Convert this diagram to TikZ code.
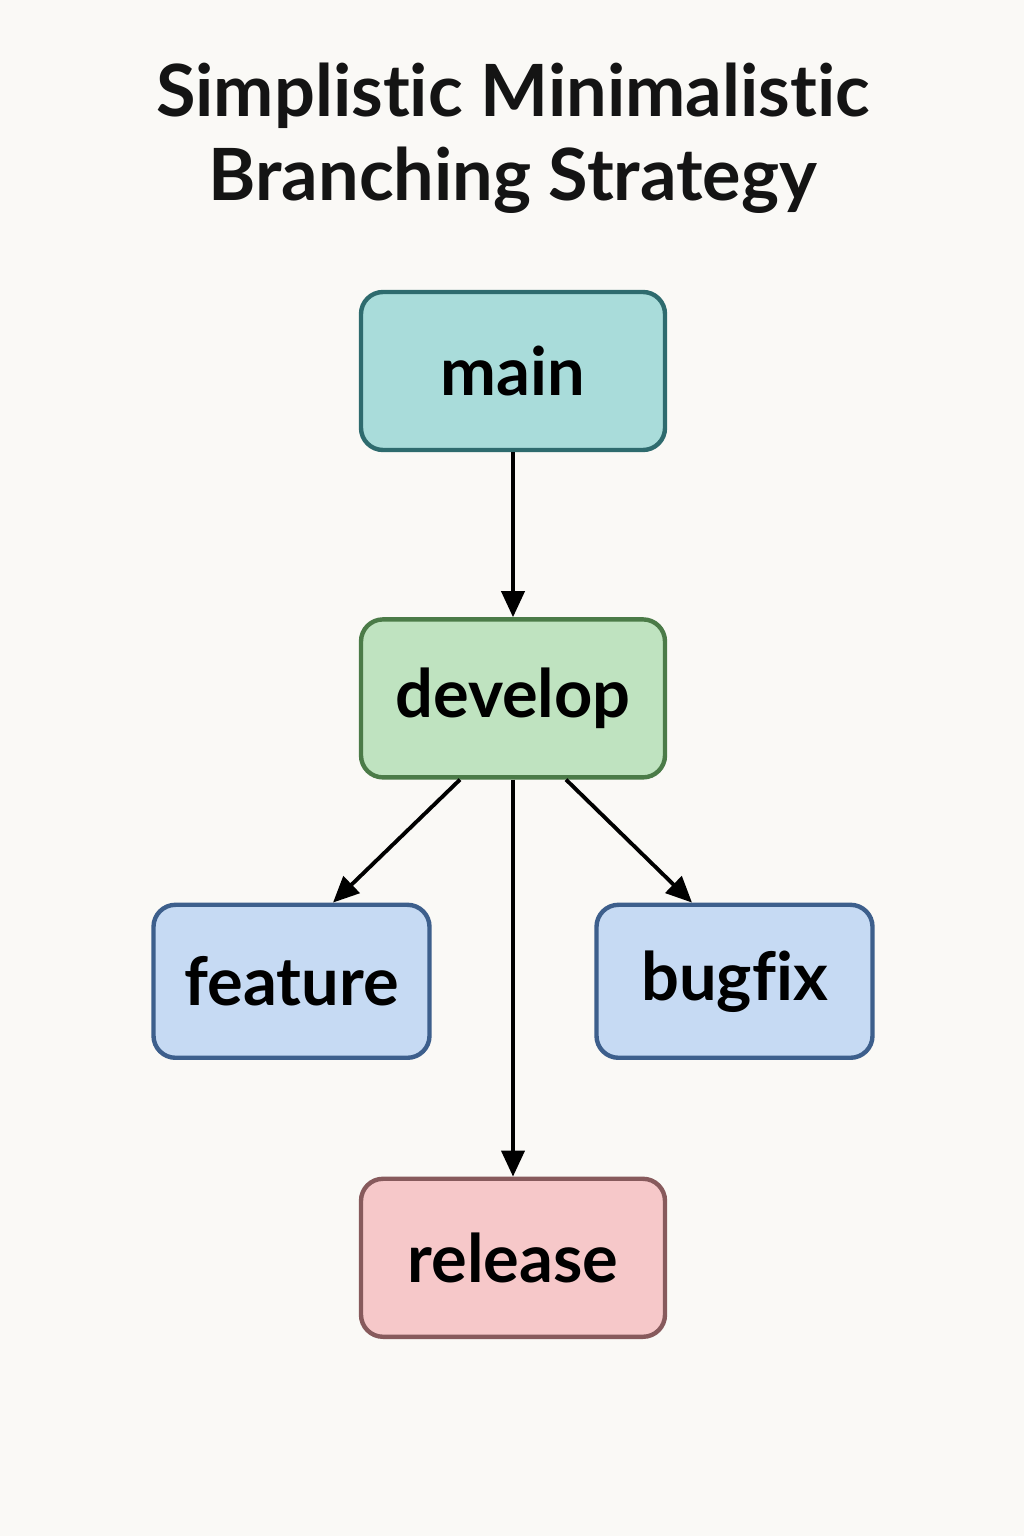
\documentclass[tikz,border=0pt]{standalone}
\usepackage{fontspec}
\setmainfont{Lato}[Ligatures=NoCommon]
\usetikzlibrary{positioning,arrows.meta}

\definecolor{pagebg}{HTML}{FAF9F6}
\definecolor{mainfill}{HTML}{A9DCDA}
\definecolor{mainline}{HTML}{2E6B6E}
\definecolor{devfill}{HTML}{BFE3C0}
\definecolor{devline}{HTML}{4B7B48}
\definecolor{workfill}{HTML}{C6DAF3}
\definecolor{workline}{HTML}{3D5F8C}
\definecolor{relfill}{HTML}{F6C8C9}
\definecolor{relline}{HTML}{875A5C}

\begin{document}
\begin{tikzpicture}[
    branchbox/.style={
      rectangle,rounded corners=0.44cm,line width=2.5pt,
      minimum width=6.08cm,minimum height=3.16cm,inner sep=0pt,
      font=\bfseries\fontsize{38}{42}\selectfont
    },
    workbox/.style={
      branchbox,fill=workfill,draw=workline,
      minimum width=5.52cm,minimum height=3.06cm
    },
    branchto/.style={
      -{Triangle[length=0.52cm,width=0.46cm]},line width=2.2pt,black
    }
  ]
    \fill[pagebg] (0,0) rectangle (20.48,-30.72);
    \useasboundingbox (0,0) rectangle (20.48,-30.72);

    \node[font=\bfseries\fontsize{41}{48}\selectfont,align=center,text=black!92]
      (title) at (10.26,-2.76) {Simplistic Minimalistic\\Branching Strategy};

    \node[branchbox,fill=mainfill,draw=mainline] (main) at (10.26,-7.42) {main};
    \node[branchbox,fill=devfill,draw=devline,below=3.3cm of main] (develop) {develop};
    \node[workbox,below=2.46cm of develop,xshift=-4.43cm] (feature) {feature};
    \node[workbox,below=2.46cm of develop,xshift=4.43cm] (bugfix) {bugfix};
    \node[branchbox,fill=relfill,draw=relline,below=7.94cm of develop] (release) {release};

    \draw[branchto] (main.south) -- (develop.north);
    \draw[branchto] ([xshift=-1.06cm]develop.south) -- ([xshift=0.83cm]feature.north);
    \draw[branchto] ([xshift=1.06cm]develop.south) -- ([xshift=-0.85cm]bugfix.north);
    \draw[branchto] (develop.south) -- (release.north);
  \end{tikzpicture}
\end{document}
